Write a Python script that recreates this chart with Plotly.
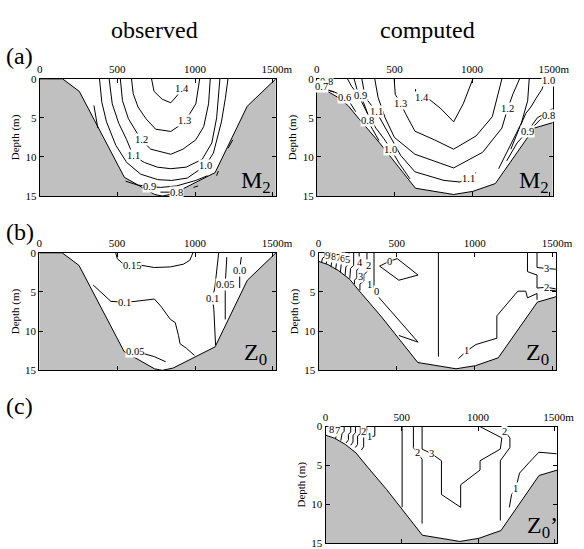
import plotly.graph_objects as go

W, H = 584, 549
SERIF = "Liberation Serif"
GREY = "rgb(192,192,192)"

x_ticks = [0, 500, 1000, 1500]
x_ticktext = ["0", "500", "1000", "\u00a0\u00a0\u00a01500m"]
depth_ticks = [0, 5, 10, 15]
depth_ticktext = ["0", "5", "10", "15"]

# bathymetry (distance m, depth m)
obs_bathy_x = [0, 147, 255, 545, 740, 790, 860, 1129, 1336, 1520]
obs_bathy_d = [0, 0, 1.6, 12.6, 14.8, 15.0, 14.7, 12.0, 3.5, 0]
comp_bathy_x = [0, 60, 130, 200, 275, 400, 635, 880, 1005, 1150, 1400, 1520]
comp_bathy_d = [1.1, 1.5, 2.3, 3.4, 5.2, 8.1, 14.0, 14.8, 14.4, 13.4, 6.3, 5.6]

# ---- (a) observed M2 ----
a_obs_lines = [
    ([720, 736, 788, 844, 891, 918], [0, 1.6, 2.6, 3.06, 2.0, 1.2]),
    ([591, 602, 633, 684, 746, 844, 891, 932, 968, 1005, 1030], [0, 1.9, 3.6, 5.1, 6.44, 6.73, 6.1, 5.35, 4.4, 3.2, 0]),
    ([519, 533, 571, 633, 653, 715, 844, 922, 1005, 1056, 1087, 1098], [0, 2.8, 5.1, 7.2, 7.8, 9.0, 9.65, 9.0, 7.8, 6.1, 3.2, 0]),
    ([447, 467, 509, 560, 602, 674, 757, 844, 943, 1046, 1108, 1139, 1160], [0, 3.2, 5.7, 7.8, 9.85, 10.7, 11.3, 11.5, 11.3, 10.3, 8.2, 5.0, 0]),
    ([385, 400, 430, 490, 560, 650, 760, 850, 950, 1067, 1118, 1170, 1195, 1212], [0, 3.0, 5.5, 8.5, 10.7, 12.2, 12.9, 13.0, 12.7, 11.1, 9.5, 5.5, 2.5, 0]),
    ([349, 374], [3.4, 6.3]),
    ([553, 633, 705, 777, 881, 1005, 1080], [13.1, 13.6, 13.75, 13.9, 13.7, 13.0, 12.4]),
    ([1212, 1243], [8.9, 7.8]),
    ([1139, 1150], [12.4, 11.8]),
    ([777, 881], [14.5, 14.5]),
    ([990, 1020], [13.9, 13.7]),
]
a_obs_lab_x = [918, 932, 653, 602, 1067, 705, 881]
a_obs_lab_d = [1.2, 5.35, 7.8, 9.85, 11.1, 13.75, 14.5]
a_obs_lab_t = ["1.4", "1.3", "1.2", "1.1", "1.0", "0.9", "0.8"]

# ---- (a) computed M2 ----
a_comp_lines = [
    ([636, 636, 680, 720, 798, 881, 943, 1005], [1.3, 1.94, 2.35, 2.56, 3.8, 5.5, 3.2, 0]),
    ([498, 505, 539, 570, 632, 757, 881, 1026, 1130, 1192], [0, 2.0, 3.1, 4.4, 6.7, 7.8, 9.0, 7.3, 4.85, 0]),
    ([373, 394, 440, 500, 632, 881, 1068, 1192, 1229, 1264, 1306], [0, 2.35, 5.0, 7.5, 9.65, 11.4, 9.4, 6.3, 3.8, 1.9, 0]),
    ([290, 311, 383, 425, 470, 540, 632, 819, 922, 974, 1026], [0, 2.35, 4.2, 5.7, 7.4, 9.8, 11.9, 13.0, 13.2, 12.7, 12.0]),
    ([1171, 1233, 1317, 1358, 1368], [11.5, 9.0, 5.7, 2.8, 0]),
    ([240, 262, 290, 330, 380, 430, 477, 530, 600], [0, 1.6, 3.0, 4.6, 6.3, 7.6, 9.0, 10.8, 12.8]),
    ([197, 225, 249, 280, 300, 330], [0, 1.0, 1.6, 2.1, 3.0, 4.6]),
    ([300, 327, 360, 400], [4.6, 5.3, 6.5, 7.9]),
    ([90, 62, 30, 8], [0, 0.35, 0.8, 1.05]),
    ([10, 27, 60, 110], [1.15, 1.0, 1.3, 1.7]),
    ([31, 100, 140, 176, 215, 250], [1.3, 1.6, 1.9, 2.4, 3.1, 4.2]),
    ([1472, 1451, 1410, 1379, 1347, 1300, 1250], [0, 1.3, 2.56, 3.6, 4.4, 6.5, 9.0]),
    ([1223, 1290, 1358, 1420, 1519], [10.5, 8.2, 6.7, 5.0, 3.8]),
    ([1400, 1440, 1490, 1519], [6.0, 5.2, 4.7, 4.5]),
]
a_comp_lab_x = [62, 27, 176, 280, 383, 539, 680, 327, 477, 1229, 1493, 1490, 1358, 974]
a_comp_lab_d = [0.35, 1.0, 2.4, 2.1, 4.2, 3.1, 2.35, 5.3, 9.0, 3.8, 0.2, 4.7, 6.7, 12.7]
a_comp_lab_t = ["0.8", "0.7", "0.6", "0.9", "1.1", "1.3", "1.4", "0.8", "1.0", "1.2", "1.0", "0.8", "0.9", "1.1"]

# ---- (b) observed Z0 ----
b_obs_lines = [
    ([491, 501, 532, 594, 656, 739, 842, 925, 966, 987], [0, 0.75, 1.3, 1.59, 1.6, 1.88, 1.8, 1.46, 0.96, 0]),
    ([346, 388, 460, 550, 615, 739, 780, 842, 873, 894, 904, 946, 997], [4.1, 4.9, 6.2, 6.3, 6.2, 5.9, 6.8, 8.5, 8.9, 10.55, 11.6, 12.2, 13.1]),
    ([1152, 1136, 1127, 1111, 1121, 1132], [0, 3.05, 4.5, 5.8, 7.2, 11.8]),
    ([1204, 1194, 1194, 1194, 1194], [0.55, 3.05, 4.1, 5.1, 8.5]),
    ([1297, 1287, 1287, 1287], [0.55, 2.2, 3.05, 4.5]),
    ([560, 615, 677, 739, 812], [12.3, 12.55, 12.9, 13.25, 13.9]),
]
b_obs_lab_x = [594, 550, 1111, 1194, 1287, 615]
b_obs_lab_d = [1.59, 6.3, 5.8, 4.1, 2.2, 12.55]
b_obs_lab_t = ["0.15", "0.1", "0.1", "0.05", "0.0", "0.05"]

# ---- (b) computed Z0 ----
b_comp_lines = [
    ([391, 452, 504, 637, 514, 391], [1.7, 1.1, 0.75, 2.84, 3.5, 1.7]),
    ([767, 767], [0, 13.25]),
    ([355, 355, 370, 380, 637, 514], [0, 4.4, 4.9, 5.55, 11.4, 10.55]),
    ([895, 950, 1008, 1141, 1141, 1254, 1275, 1326, 1337, 1398, 1398], [13.5, 12.5, 11.7, 10.9, 8.05, 5.5, 4.9, 4.9, 5.75, 5.2, 6.0]),
    ([1337, 1337, 1398, 1398, 1460, 1518], [0, 2.4, 2.84, 4.5, 4.4, 4.6]),
    ([1398, 1398, 1460, 1518], [0, 1.88, 2.0, 2.1]),
    ([1480, 1518], [4.8, 4.8]),
    ([40, 40, 25, 20], [0, 0.5, 0.7, 1.2]),
    ([75, 75, 55, 50], [0, 0.6, 0.8, 1.4]),
    ([105, 105, 85, 80], [0, 0.8, 1.0, 1.8]),
    ([135, 135, 115, 110], [0, 1.0, 1.3, 2.1]),
    ([165, 165, 145, 140], [0, 1.2, 1.5, 2.5]),
    ([195, 195, 175, 170], [0, 1.4, 1.8, 2.9]),
    ([225, 225, 205, 200], [0, 1.6, 2.0, 3.3]),
    ([260, 260, 245, 245, 230, 230], [0, 1.9, 2.2, 3.2, 3.5, 4.0]),
    ([310, 310, 290, 290, 265, 265], [0, 2.4, 2.8, 3.6, 4.0, 4.8]),
]
b_comp_lab_x = [452, 370, 950, 1460, 1460, 267, 323, 267, 329, 60, 95, 125, 155, 185]
b_comp_lab_d = [1.1, 4.9, 12.5, 4.4, 2.0, 1.2, 1.6, 3.05, 4.1, 0.4, 0.5, 0.6, 0.7, 0.8]
b_comp_lab_t = ["0", "0", "1", "2", "3", "4", "2", "3", "1", "9", "8", "7", "6", "5"]

# ---- (c) computed Z0' ----
c_lines = [
    ([502, 502], [0, 10.4]),
    ([576, 576, 601, 633, 633], [0, 2.7, 3.4, 4.2, 12.5]),
    ([633, 633, 696, 760, 760, 886, 886, 1013, 1013, 1146, 1156, 1013], [0, 2.9, 3.5, 4.4, 8.75, 10.4, 7.5, 5.6, 4.4, 2.9, 1.46, 0]),
    ([1160, 1175, 1209, 1209, 1146, 1146], [0, 0.6, 1.46, 2.7, 4.4, 12.1]),
    ([1205, 1220, 1247, 1272, 1336, 1399, 1515], [10.4, 8.75, 8.0, 6.0, 4.6, 3.3, 3.5]),
    ([323, 323, 300, 280], [0, 1.2, 1.3, 1.25]),
    ([270, 270, 250, 250, 235], [0, 1.0, 1.3, 2.6, 3.0]),
    ([228, 228, 210, 210, 195], [0, 0.9, 1.2, 2.3, 2.7]),
    ([196, 196, 180, 180, 165], [0, 0.8, 1.1, 2.0, 2.4]),
    ([165, 165, 150, 150, 135], [0, 0.7, 1.0, 1.7, 2.1]),
    ([122, 122, 108, 100], [0, 0.6, 0.9, 1.8]),
    ([91, 91, 75, 65], [0, 0.5, 0.8, 1.6]),
]
c_lab_x = [601, 696, 1175, 1247, 285, 250, 40, 75]
c_lab_d = [3.4, 3.5, 0.6, 8.0, 1.25, 0.6, 0.4, 0.5]
c_lab_t = ["2", "3", "2", "1", "1", "2", "8", "7"]

panels = [
    dict(px=(38, 282.5), py=(74.5, 194.3), bx=obs_bathy_x, bd=obs_bathy_d, lines=a_obs_lines,
         lab=(a_obs_lab_x, a_obs_lab_d, a_obs_lab_t), tag="M<sub>2</sub>", tagxy=(244, 180)),
    dict(px=(325, 569.3), py=(74.5, 194.3), bx=comp_bathy_x, bd=comp_bathy_d, lines=a_comp_lines,
         lab=(a_comp_lab_x, a_comp_lab_d, a_comp_lab_t), tag="M<sub>2</sub>", tagxy=(532, 180)),
    dict(px=(37.5, 282.7), py=(252.3, 372.5), bx=obs_bathy_x, bd=obs_bathy_d, lines=b_obs_lines,
         lab=(b_obs_lab_x, b_obs_lab_d, b_obs_lab_t), tag="Z<sub>0</sub>", tagxy=(247, 356)),
    dict(px=(326.7, 572.7), py=(252.3, 372.5), bx=comp_bathy_x, bd=comp_bathy_d, lines=b_comp_lines,
         lab=(b_comp_lab_x, b_comp_lab_d, b_comp_lab_t), tag="Z<sub>0</sub>", tagxy=(539, 356)),
    dict(px=(334, 574), py=(430, 549), bx=comp_bathy_x, bd=comp_bathy_d, lines=c_lines,
         lab=(c_lab_x, c_lab_d, c_lab_t), tag="Z<sub>0</sub>’", tagxy=(541, 533)),
]

fig = go.Figure()
annotations = []
layout_axes = {}
for i, p in enumerate(panels, start=1):
    xa = "x" if i == 1 else f"x{i}"
    ya = "y" if i == 1 else f"y{i}"
    fig.add_trace(go.Scatter(
        x=list(p["bx"]) + [1520, 0], y=list(p["bd"]) + [16, 16],
        fill="toself", fillcolor=GREY, mode="lines", line=dict(width=0, color=GREY),
        xaxis=xa, yaxis=ya, hoverinfo="skip", showlegend=False))
    fig.add_trace(go.Scatter(
        x=p["bx"], y=p["bd"], mode="lines", line=dict(width=1, color="black"),
        xaxis=xa, yaxis=ya, hoverinfo="skip", showlegend=False))
    for lx, ld in p["lines"]:
        fig.add_trace(go.Scatter(
            x=lx, y=ld, mode="lines", line=dict(width=1, color="black"),
            xaxis=xa, yaxis=ya, hoverinfo="skip", showlegend=False))
    for tx, td, tt in zip(*p["lab"]):
        annotations.append(dict(
            x=tx, y=td, xref=xa, yref=ya, text=tt, showarrow=False,
            xanchor="center", yanchor="middle",
            font=dict(family=SERIF, size=10.5, color="black"),
            bgcolor="white", borderpad=0))
    annotations.append(dict(
        x=p["tagxy"][0] / W, y=1 - p["tagxy"][1] / H, xref="paper", yref="paper",
        text=p["tag"], showarrow=False, xanchor="left", yanchor="middle",
        font=dict(family=SERIF, size=24, color="black")))
    x0, x1 = p["px"]
    y0, y1 = p["py"]
    layout_axes["xaxis" if i == 1 else f"xaxis{i}"] = dict(
        domain=[x0 / W, x1 / W], range=[0, 1520], anchor=ya, side="top",
        tickvals=x_ticks, ticktext=x_ticktext, ticks="inside", ticklen=4,
        tickwidth=1, tickcolor="black", showline=True, linewidth=1, linecolor="black",
        mirror="ticks", showgrid=False, zeroline=False, fixedrange=True,
        tickfont=dict(family=SERIF, size=11, color="black"))
    layout_axes["yaxis" if i == 1 else f"yaxis{i}"] = dict(
        domain=[max(0, 1 - y1 / H), 1 - y0 / H], range=[15, 0], anchor=xa,
        tickvals=depth_ticks, ticktext=depth_ticktext, ticks="inside", ticklen=4,
        tickwidth=1, tickcolor="black", showline=True, linewidth=1, linecolor="black",
        mirror="ticks", showgrid=False, zeroline=False, fixedrange=True,
        tickfont=dict(family=SERIF, size=11, color="black"),
        title=dict(text="Depth (m)", font=dict(family=SERIF, size=11, color="black"), standoff=3))

for txt, x, y in [("observed", 157, 25), ("computed", 440, 25)]:
    annotations.append(dict(x=x / W, y=1 - y / H, xref="paper", yref="paper", text=txt,
                            xanchor="center", yanchor="middle", showarrow=False,
                            font=dict(family=SERIF, size=24, color="black")))
for txt, y in [("(a)", 51), ("(b)", 231), ("(c)", 409)]:
    annotations.append(dict(x=1 / W, y=1 - y / H, xref="paper", yref="paper", text=txt,
                            xanchor="left", yanchor="middle", showarrow=False,
                            font=dict(family=SERIF, size=24, color="black")))

fig.update_layout(
    width=W, height=H, margin=dict(l=0, r=0, t=0, b=0),
    paper_bgcolor="white", plot_bgcolor="white",
    annotations=annotations, showlegend=False, **layout_axes)

fig.write_html("out.html")
